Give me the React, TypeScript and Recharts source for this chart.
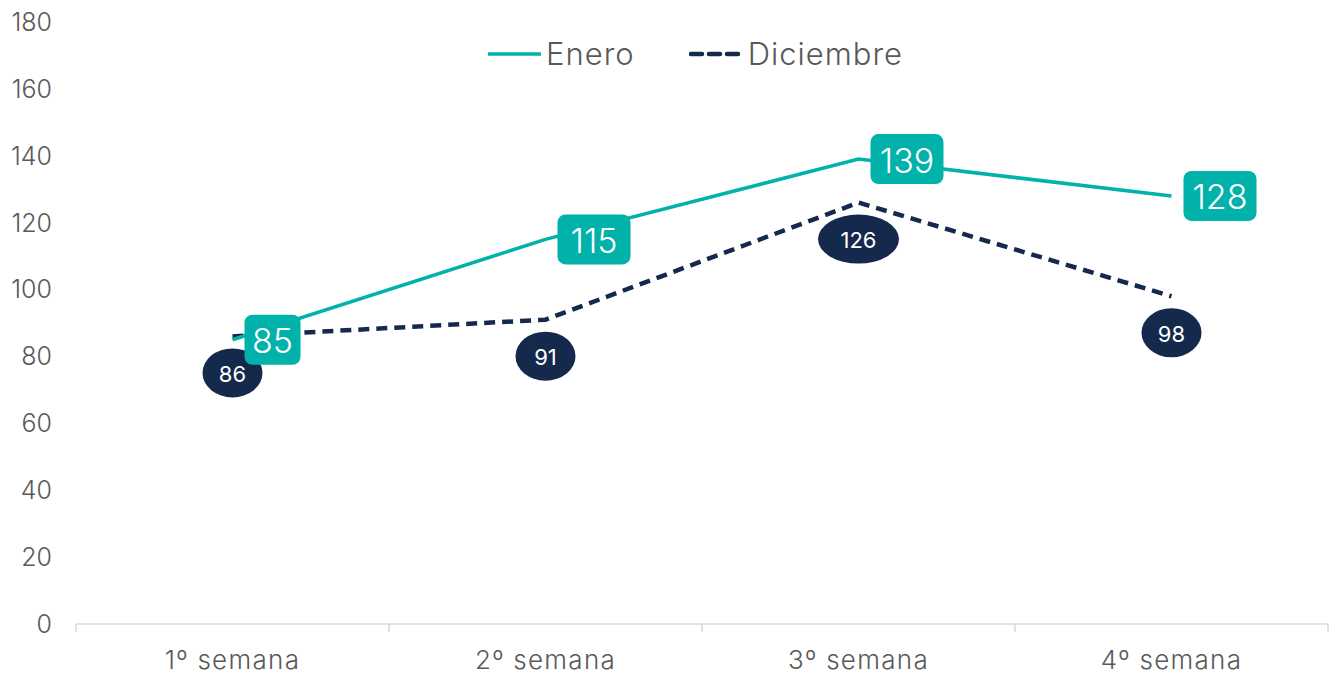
import React from 'react';
import { LineChart, Line, XAxis, YAxis, LabelList } from 'recharts';

const categories = ['1º semana', '2º semana', '3º semana', '4º semana'];
const eneroValues = [85, 115, 139, 128];
const diciembreValues = [86, 91, 126, 98];
const yTicks = [0, 20, 40, 60, 80, 100, 120, 140, 160, 180];
const xTicks = [0, 0.5, 1, 1.5, 2, 2.5, 3, 3.5, 4];

const TEAL = '#00B2A9';
const NAVY = '#15294D';
const GRAY = '#595959';
const FONT = 'Inter, "Noto Sans", sans-serif';

const data = categories.map((name, i) => ({
  pos: i + 0.5,
  name,
  enero: eneroValues[i],
  diciembre: diciembreValues[i],
}));

const XTick = (props: any) => {
  const { x, y, payload } = props;
  const v = payload.value as number;
  if (Number.isInteger(v)) {
    return <line x1={x} x2={x} y1={y} y2={y + 8} stroke="#D9D9D9" strokeWidth={1.5} />;
  }
  const label = categories[Math.floor(v)];
  return (
    <text x={x} y={y + 35} textAnchor="middle" dominantBaseline="central" fill={GRAY} fontSize={26} letterSpacing={1.3} fontFamily={FONT} fontWeight={300}>
      {label}
    </text>
  );
};

const EneroLabel = (props: any) => {
  const { x, y, value } = props;
  const s = String(value);
  const w = 17 * s.length + 22;
  const left = x + 12;
  return (
    <g>
      <rect x={left} y={y - 25} width={w} height={50} rx={8} ry={8} fill={TEAL} />
      <text x={left + w / 2} y={y + 1} textAnchor="middle" dominantBaseline="central" fill="#FFFFFF" fontSize={34} fontFamily={FONT} fontWeight={300}>
        {s}
      </text>
    </g>
  );
};

const DicLabel = (props: any) => {
  const { x, y, value } = props;
  const s = String(value);
  const rx = s.length > 2 ? 40.5 : 30;
  const cy = y + 36.5;
  return (
    <g>
      <ellipse cx={x} cy={cy} rx={rx} ry={24.5} fill={NAVY} />
      <text x={x} y={cy + 1} textAnchor="middle" dominantBaseline="central" fill="#FFFFFF" fontSize={22} fontFamily={FONT}>
        {s}
      </text>
    </g>
  );
};

export default function App() {
  return (
    <div style={{ position: 'relative', width: 1330, height: 667 }}>
      <LineChart width={1330} height={667} data={data} margin={{ top: 14, right: 10, bottom: 0, left: 0 }}>
        <XAxis
          dataKey="pos"
          type="number"
          domain={[0, 4]}
          ticks={xTicks}
          interval={0}
          tickLine={false}
          tickSize={0}
          tickMargin={0}
          axisLine={{ stroke: '#D9D9D9', strokeWidth: 1.5 }}
          tick={<XTick />}
          height={51}
        />
        <YAxis
          domain={[0, 180]}
          ticks={yTicks}
          interval={0}
          axisLine={false}
          tickLine={false}
          tickMargin={18}
          width={68}
          tick={{ fill: GRAY, fontSize: 25, fontFamily: FONT, fontWeight: 300 }}
        />
        <Line
          dataKey="diciembre"
          stroke={NAVY}
          strokeWidth={4.5}
          strokeDasharray="11 7"
          dot={false}
          activeDot={false}
          isAnimationActive={false}
        >
          <LabelList dataKey="diciembre" content={<DicLabel />} />
        </Line>
        <Line
          dataKey="enero"
          stroke={TEAL}
          strokeWidth={3.5}
          dot={false}
          activeDot={false}
          isAnimationActive={false}
        >
          <LabelList dataKey="enero" content={<EneroLabel />} />
        </Line>
      </LineChart>
      <div style={{ position: 'absolute', top: 26, left: 480, display: 'flex', alignItems: 'center', fontFamily: FONT, fontWeight: 300, fontSize: 31, letterSpacing: 1, color: GRAY, lineHeight: '40px' }}>
        <svg width={53} height={10} style={{ marginRight: 5 }}>
          <line x1={1} x2={52} y1={5} y2={5} stroke={TEAL} strokeWidth={3.5} strokeLinecap="round" />
        </svg>
        <span>Enero</span>
        <svg width={53} height={10} style={{ marginLeft: 54, marginRight: 6 }}>
          <line x1={2} x2={52} y1={5} y2={5} stroke={NAVY} strokeWidth={4.5} strokeDasharray="11 7" strokeLinecap="round" />
        </svg>
        <span>Diciembre</span>
      </div>
    </div>
  );
}
